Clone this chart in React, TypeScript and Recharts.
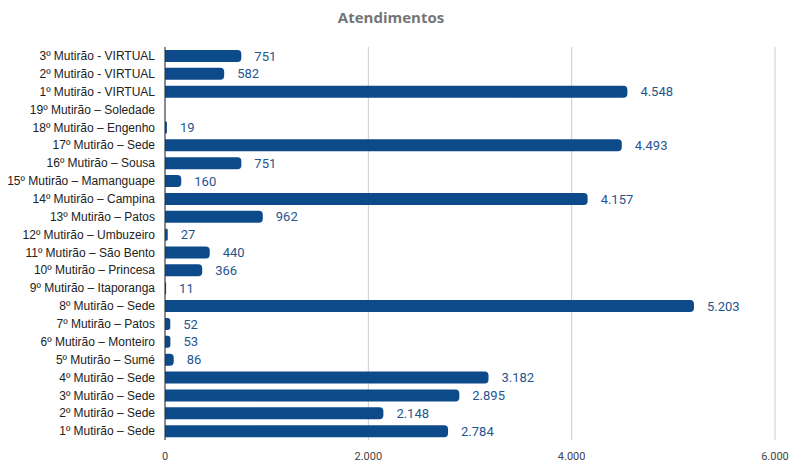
import { BarChart, Bar, XAxis, YAxis, CartesianGrid, LabelList } from 'recharts';

const categories = [
  '3º Mutirão - VIRTUAL',
  '2º Mutirão - VIRTUAL',
  '1º Mutirão - VIRTUAL',
  '19º Mutirão – Soledade',
  '18º Mutirão – Engenho',
  '17º Mutirão – Sede',
  '16º Mutirão – Sousa',
  '15º Mutirão – Mamanguape',
  '14º Mutirão – Campina',
  '13º Mutirão – Patos',
  '12º Mutirão – Umbuzeiro',
  '11º Mutirão – São Bento',
  '10º Mutirão – Princesa',
  '9º Mutirão – Itaporanga',
  '8º Mutirão – Sede',
  '7º Mutirão – Patos',
  '6º Mutirão – Monteiro',
  '5º Mutirão – Sumé',
  '4º Mutirão – Sede',
  '3º Mutirão – Sede',
  '2º Mutirão – Sede',
  '1º Mutirão – Sede',
];

const atendimentos: (number | null)[] = [
  751, 582, 4548, null, 19, 4493, 751, 160, 4157, 962, 27, 440, 366, 11, 5203, 52, 53, 86, 3182,
  2895, 2148, 2784,
];

const xTicks = [0, 2000, 4000, 6000];

const data = categories.map((name, i) => ({ name, value: atendimentos[i] }));

const fmt = (v: any) => {
  if (v === null || v === undefined || v === '') return '';
  return String(Math.round(Number(v))).replace(/\B(?=(\d{3})+(?!\d))/g, '.');
};

// plain single-line tick, recharts would wrap the long ones
const CategoryTick = ({ x, y, payload }: any) => (
  <text
    x={x - 8}
    y={y}
    dy="0.35em"
    textAnchor="end"
    fill="#222"
    fontSize={12}
    fontFamily='"Liberation Sans", Arial, sans-serif'
  >
    {payload.value}
  </text>
);

export default function App() {
  return (
    <div style={{ position: 'absolute', left: 0, top: 0, width: 793, height: 462, background: '#fff' }}>
      <div
        style={{
          position: 'absolute',
          top: 7,
          left: 0,
          width: 782,
          textAlign: 'center',
          fontFamily: '"Open Sans", sans-serif',
          fontWeight: 700,
          fontSize: 15,
          color: '#757575',
        }}
      >
        Atendimentos
      </div>
      <BarChart
        width={793}
        height={462}
        data={data}
        layout="vertical"
        margin={{ top: 47, right: 18, bottom: 2, left: 0 }}
        barCategoryGap={3}
      >
        <CartesianGrid horizontal={false} stroke="#cccccc" />
        <XAxis
          type="number"
          domain={[0, 6000]}
          ticks={xTicks}
          tickFormatter={fmt}
          axisLine={false}
          tickLine={false}
          tickSize={0}
          tickMargin={12}
          height={20}
          tick={{ fill: '#444', fontSize: 11, fontFamily: 'Roboto, sans-serif' }}
        />
        <YAxis
          type="category"
          dataKey="name"
          width={165}
          axisLine={{ stroke: '#333' }}
          tickLine={false}
          tickSize={0}
          interval={0}
          tick={<CategoryTick />}
        />
        <Bar dataKey="value" fill="#0d4a8a" barSize={12} radius={[0, 4, 4, 0]} isAnimationActive={false}>
          <LabelList
            dataKey="value"
            position="right"
            offset={13}
            formatter={fmt}
            style={{ fill: '#1f5590', fontSize: 13, fontFamily: 'Roboto, sans-serif' }}
          />
        </Bar>
      </BarChart>
    </div>
  );
}
